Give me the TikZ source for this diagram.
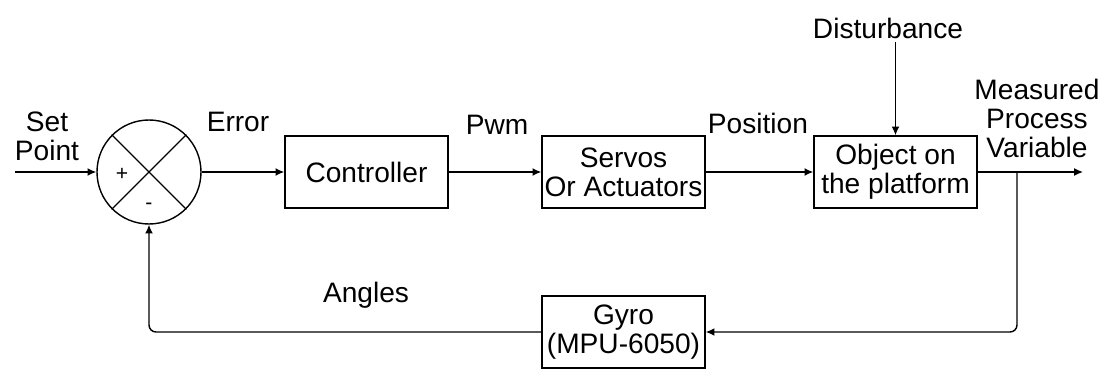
\documentclass[tikz,border=0pt]{standalone}
\usepackage{fontspec}
\setmainfont{Liberation Sans}
\usetikzlibrary{arrows.meta,calc,positioning}

\begin{document}
\begin{tikzpicture}[x=1cm,y=1cm,>={Latex[length=5pt,width=4.5pt]},
  font=\fontsize{16}{16.5}\selectfont,
  block/.style={draw,line width=0.8pt,minimum width=3.26cm,minimum height=1.44cm,align=center,inner sep=1pt},
  lbl/.style={align=center,inner sep=2pt},
  sign/.style={font=\fontsize{12}{12}\selectfont,inner sep=0pt},
  wire/.style={line width=0.8pt}]
  \useasboundingbox (0,0) rectangle (22.08,7.44);
  % summing junction
  \node[draw,circle,line width=0.8pt,minimum size=2.08cm,inner sep=0pt] (sum) at (2.98,4.0) {};
  \draw[wire] (sum.north west) -- (sum.south east);
  \draw[wire] (sum.north east) -- (sum.south west);
  \node[sign] (plus) at (2.44,3.96) {+};
  \node[sign] (minus) at (2.98,3.32) {-};
  % blocks
  \node[block] (ctrl) at (7.33,4.0) {Controller};
  \node[block] (servo) at (12.47,4.0) {Servos\\Or Actuators};
  \node[block] (obj) at (17.91,4.0) {Object on\\the platform};
  \node[block] (gyro) at (12.47,0.80) {Gyro\\(MPU-6050)};
  % labels
  \node[lbl] (setpt) at (0.94,4.72) {Set\\Point};
  \node[lbl] (err) at (4.76,5.0) {Error};
  \node[lbl] (pwm) at (9.94,4.94) {Pwm};
  \node[lbl] (pos) at (15.16,4.98) {Position};
  \node[lbl] (dist) at (17.76,6.88) {Disturbance};
  \node[lbl] (meas) at (20.74,5.08) {Measured\\Process\\Variable};
  \node[lbl] (ang) at (7.32,1.54) {Angles};
  \coordinate (in) at (0.30,4.0);
  \coordinate (out) at (21.66,4.0);
  \coordinate (tap) at (20.34,4.0);
  % forward path
  \draw[wire,->] (in) -- (sum.west);
  \draw[wire,->] (sum.east) -- (ctrl.west);
  \draw[wire,->] (ctrl.east) -- (servo.west);
  \draw[wire,->] (servo.east) -- (obj.west);
  \draw[wire,->] (obj.east) -- (out);
  \draw[wire,->] (obj.north |- dist.south) -- (obj.north);
  % feedback path
  \draw[wire,->,rounded corners=4pt] (tap) |- (gyro.east);
  \draw[wire,->,rounded corners=4pt] (gyro.west) -| (sum.south);
\end{tikzpicture}
\end{document}
